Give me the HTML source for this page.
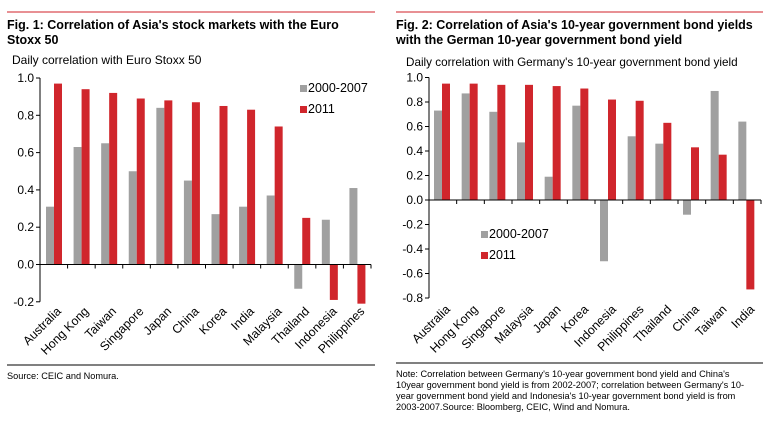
<!DOCTYPE html>
<html><head><meta charset="utf-8"><style>
body{margin:0;background:#fff;width:783px;height:424px;overflow:hidden}
svg{display:block;font-family:"Liberation Sans",Arial,sans-serif}
</style></head><body>
<svg id="s" width="783" height="424">
<line x1="7" y1="12" x2="375" y2="12" stroke="#d0202a" stroke-width="1"/>
<line x1="396" y1="12" x2="763" y2="12" stroke="#d0202a" stroke-width="1"/>
<text x="7" y="29" font-size="12.5" font-weight="bold" fill="#000">Fig. 1: Correlation of Asia's stock markets with the Euro</text>
<text x="7" y="44" font-size="12.5" font-weight="bold" fill="#000">Stoxx 50</text>
<text x="12" y="64" font-size="12" fill="#000">Daily correlation with Euro Stoxx 50</text>
<text x="396" y="29" font-size="12.5" font-weight="bold" fill="#000">Fig. 2: Correlation of Asia's 10-year government bond yields</text>
<text x="396" y="44" font-size="12.5" font-weight="bold" fill="#000">with the German 10-year government bond yield</text>
<text x="406" y="66" font-size="11.7" fill="#000">Daily correlation with Germany's 10-year government bond yield</text>
<line x1="7" y1="365" x2="375" y2="365" stroke="#000"/>
<line x1="396" y1="363" x2="763" y2="363" stroke="#000"/>
<text x="7" y="379" font-size="9.2" fill="#000">Source: CEIC and Nomura.</text>
<g font-size="9.2" fill="#000">
<text x="396" y="377">Note: Correlation between Germany's 10-year government bond yield and China's</text>
<text x="396" y="388">10year government bond yield is from 2002-2007; correlation between Germany's 10-</text>
<text x="396" y="399">year government bond yield and Indonesia's  10-year government bond yield is from</text>
<text x="396" y="410">2003-2007.Source: Bloomberg, CEIC, Wind and Nomura.</text>
</g>
<g id="c1"></g>
<g id="c2"></g>
</svg>
<script>
const cats1 = ["Australia","Hong Kong","Taiwan","Singapore","Japan","China","Korea","India","Malaysia","Thailand","Indonesia","Philippines"];
const gray1 = [0.31,0.63,0.65,0.50,0.84,0.45,0.27,0.31,0.37,-0.13,0.24,0.41];
const red1 = [0.97,0.94,0.92,0.89,0.88,0.87,0.85,0.83,0.74,0.25,-0.19,-0.21];
const ticks1 = ["1.0","0.8","0.6","0.4","0.2","0.0","-0.2"];
const cats2 = ["Australia","Hong Kong","Singapore","Malaysia","Japan","Korea","Indonesia","Philippines","Thailand","China","Taiwan","India"];
const gray2 = [0.73,0.87,0.72,0.47,0.19,0.77,-0.50,0.52,0.46,-0.12,0.89,0.64];
const red2 = [0.95,0.95,0.94,0.94,0.93,0.91,0.82,0.81,0.63,0.43,0.37,-0.73];
const ticks2 = ["1.0","0.8","0.6","0.4","0.2","0.0","-0.2","-0.4","-0.6","-0.8"];
const NS="http://www.w3.org/2000/svg";
function mk(p,t,a){const e=document.createElementNS(NS,t);for(const k in a)e.setAttribute(k,a[k]);p.appendChild(e);return e;}
function chart(g,cats,gray,red,ticks,o){
  const y=v=>o.y0-(v)*o.k;
  const bw=(o.x1-o.x0)/cats.length;
  ticks.forEach(t=>{const v=parseFloat(t);
    const tl=mk(g,'line',{x1:o.x0-4,x2:o.x0,y1:y(v),y2:y(v),stroke:'#000'});
    
    
    const tx=mk(g,'text',{x:o.x0-6,y:y(v)+4,'font-size':12,'text-anchor':'end',fill:'#000'});tx.textContent=t;
    
    
  });
  const vmin=parseFloat(ticks[ticks.length-1]),vmax=parseFloat(ticks[0]);
  const ax=mk(g,'line',{x1:o.x0,x2:o.x0,y1:y(vmax),y2:y(vmin),stroke:'#000'});
  
  
  cats.forEach((c,i)=>{
    const cx=o.x0+i*bw;
    const gv=gray[i],rv=red[i];
    const gb=mk(g,'rect',{x:cx+o.off,y:Math.min(y(gv),y(0)),width:8,height:Math.abs(y(gv)-y(0)),fill:'#a0a0a0'});
    
    
    const rb=mk(g,'rect',{x:cx+o.off+8,y:Math.min(y(rv),y(0)),width:8,height:Math.abs(y(rv)-y(0)),fill:'#d0262c'});
    
    
    const tk=mk(g,'line',{x1:cx+bw,x2:cx+bw,y1:y(0),y2:y(0)+4,stroke:'#000'});
    
    
    const lx=cx+bw/2+8,ly=o.ly;
    const t=mk(g,'text',{x:lx,y:ly,'font-size':12.3,'text-anchor':'end',fill:'#000',transform:`rotate(-45 ${lx} ${ly})`});
    t.textContent=c;
    
    
  });
  const zl=mk(g,'line',{x1:o.x0,x2:o.x1,y1:y(0),y2:y(0),stroke:'#000'});
  
  
  [['2000-2007','#a0a0a0',0],['2011','#d0262c',1]].forEach(([n,col,j])=>{
    const r=mk(g,'rect',{x:o.lgx,y:o.lgy+j*21-7,width:7,height:7,fill:col});
    
    
    const t=mk(g,'text',{x:o.lgx+8,y:o.lgy+j*21,'font-size':12.5,fill:'#000'});t.textContent=n;
    
    
  });
}
chart(document.getElementById('c1'),cats1,gray1,red1,ticks1,{x0:40,x1:371,y0:264.5,k:186.5,off:6,ly:312,lgx:300,lgy:92});
chart(document.getElementById('c2'),cats2,gray2,red2,ticks2,{x0:429,x1:761,y0:200,k:122.5,off:5,ly:310,lgx:481,lgy:238});
</script>
</body></html>
